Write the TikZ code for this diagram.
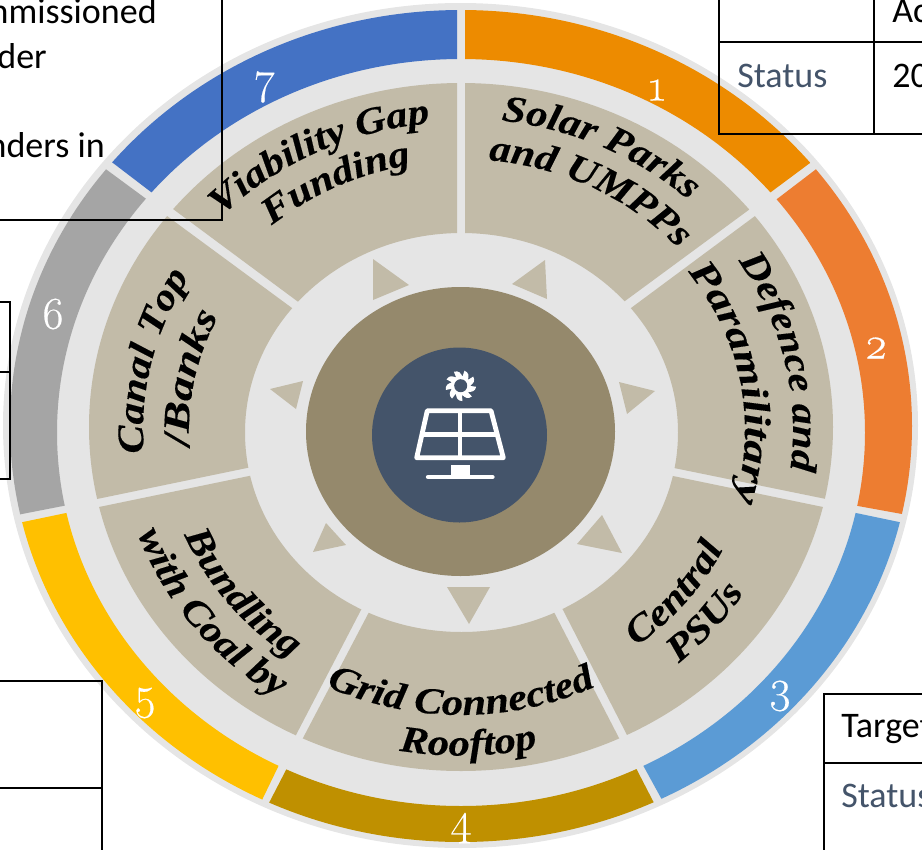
\documentclass[tikz,border=0pt]{standalone}
\usepackage{fontspec}
\usetikzlibrary{calc,decorations.text}
\newfontfamily\tblfont{Carlito}
\newfontfamily\digitfont[Numbers=OldStyle,FakeBold=0.4]{Latin Modern Roman}
\newfontfamily\arcfont[UprightFont=* Bold Italic,FakeStretch=1.14,FakeBold=0.3]{Liberation Serif}
\newfontfamily\arcwidefont[UprightFont=* Bold Italic,FakeStretch=1.25,FakeBold=0.3]{Liberation Serif}
\definecolor{diskgray}{HTML}{E5E5E5}
\definecolor{sectorbeige}{HTML}{C2BBA8}
\definecolor{hubdark}{HTML}{95896C}
\definecolor{hubblue}{HTML}{44546A}
\definecolor{segA}{HTML}{ED8B00}
\definecolor{segB}{HTML}{ED7D31}
\definecolor{segC}{HTML}{5B9BD5}
\definecolor{segD}{HTML}{BF9000}
\definecolor{segE}{HTML}{FFC000}
\definecolor{segF}{HTML}{A5A5A5}
\definecolor{segG}{HTML}{4472C4}
\tikzset{
  tableline/.style={draw=black,line width=1.7pt},
  tabletext/.style={font=\tblfont\fontsize{27}{30}\selectfont,inner sep=0pt},
  statustext/.style={tabletext,text=hubblue},
  numlabel/.style={font=\digitfont\fontsize{34}{36}\selectfont,text=white,inner sep=0pt},
  pointer/.style={fill=sectorbeige}
}
\newcommand{\ringpart}[5]{%
  \begin{scope}
    \clip ($(#2)!-0.3!(#3)$) -- ($(#2)!4!(#3)$) -- ($(#5)!4!(#4)$) -- ($(#5)!-0.3!(#4)$) -- cycle;
    \fill[#1,even odd rule] (461,426) ellipse [x radius=451,y radius=416]
      (461,432.5) ellipse [x radius=404,y radius=373.5];
  \end{scope}}
\newcommand{\sectorpart}[4]{%
  \begin{scope}
    \clip ($(#1)!-0.1!(#2)$) -- ($(#1)!1.5!(#2)$) -- ($(#4)!1.5!(#3)$) -- ($(#4)!-0.1!(#3)$) -- cycle;
    \fill[sectorbeige,even odd rule] (461,427) ellipse [x radius=372,y radius=344]
      (461.5,432.5) ellipse [x radius=216.5,y radius=199.5];
  \end{scope}}
% [font], radius, start angle, end angle, text: centred on the arc, which runs on beyond both ends
\newcommand{\arctext}[5][\arcfont]{%
  \pgfmathsetmacro{\arcpad}{((#4)>(#3)?14:-14)}%
  \pgfmathsetmacro{\arcs}{#3-\arcpad}%
  \pgfmathsetmacro{\arce}{#4+\arcpad}%
  \path[decorate,decoration={text along path,text align=center,
     text={|#1\fontsize{28}{30}\selectfont|#5}}]
     ({461+#2*cos(\arcs)},{430+0.925*#2*sin(\arcs)})
     arc[start angle=\arcs,end angle=\arce,x radius=#2,y radius={0.925*#2}];}
\begin{document}
\begin{tikzpicture}[x=0.75pt,y=-0.75pt]
\useasboundingbox (0,0) rectangle (922,850);
\clip (0,0) rectangle (922,850);
% disk
\fill[diskgray] (460.5,425.5) ellipse [x radius=457.5,y radius=422.5];
% ring
\ringpart{segA}{465,59}{465,10}{810,163}{771,192}
\ringpart{segB}{777,199}{815,170}{902,514}{858,506}
\ringpart{segC}{856,513}{899,522}{661,798}{644,767}
\ringpart{segD}{637,770}{653,801}{270,801}{286,770}
\ringpart{segE}{278,767}{263,798}{23,522}{66,513}
\ringpart{segF}{63,506}{22,514}{107,170}{145,198}
\ringpart{segG}{151,192}{113,163}{457,10}{457,59}
% sectors
\sectorpart{465,233}{465,83}{750,209}{625,301}
\sectorpart{631,308}{755,216}{826,499}{674,468}
\sectorpart{673,476}{823,507}{627,735}{563,610}
\sectorpart{555,614}{619,738}{303,738}{368,614}
\sectorpart{361,610}{296,735}{99,507}{249,476}
\sectorpart{247,468}{97,499}{167,216}{292,308}
\sectorpart{297,301}{173,209}{457,83}{457,233}
% pointers
\fill[pointer] (373,259) -- (409,285) -- (373,300) -- cycle;
\fill[pointer] (545,260) -- (512,284) -- (547,299) -- cycle;
\fill[pointer] (619,382) -- (655,391) -- (627,414) -- cycle;
\fill[pointer] (602,515) -- (622,553) -- (577,544) -- cycle;
\fill[pointer] (447,587) -- (490,587) -- (469,624) -- cycle;
\fill[pointer] (326,523) -- (346,545) -- (313,552) -- cycle;
\fill[pointer] (270,389) -- (303,381) -- (296,409) -- cycle;
% hub
\fill[hubdark] (460.5,431.5) ellipse [x radius=154.5,y radius=144.5];
\fill[hubblue] (459.5,435) circle [radius=87.5];
% icon
\draw[white,line width=3.6pt,line join=round]
  (427.3,410.7) -- (491,410.7) -- (503.3,457.7) -- (416.7,457.7) -- cycle;
\draw[white,line width=3.6pt] (460,410.7) -- (460,457.7);
\draw[white,line width=3.6pt] (422,434.3) -- (497,434.3);
\fill[white] (450.7,465) rectangle (470,476);
\draw[white,line width=3.2pt,line cap=round] (428,477) -- (492.5,477);
\begin{scope}[shift={(460.7,385.7)}]
  \foreach \t in {0,40,...,320}{
    \fill[white] (\t:8) -- (\t+4:15.5) .. controls (\t+22:15.5) and (\t+30:13) .. (\t+42:9) -- cycle;
  }
  \fill[white] (0,0) circle [radius=10];
  \fill[hubblue] (0,0) circle [radius=6.5];
\end{scope}
% sector labels
\arctext{337}{-83}{-47}{Solar Parks}
\arctext{293}{-83.5}{-42.5}{and UMPPs}
\arctext{333}{-136}{-96}{Viability Gap}
\arctext{291}{-131}{-100}{Funding}
\arctext{332}{-33}{7.5}{Defence and}
\arctext[\arcwidefont]{284}{-38}{17}{Paramilitary}
\arctext{292}{52.5}{26}{Central}
\arctext{333}{48}{32.5}{PSUs}
\arctext{308}{116}{64}{Grid Connected}
\arctext{352}{100.5}{77}{Rooftop}
\arctext{299}{157.5}{125.5}{Bundling}
\arctext{342}{160}{124}{with Coal by}
\arctext{318}{175.5}{211}{Canal Top}
\arctext[\arcwidefont]{272}{177}{206}{/Banks}
% numbers
\node[numlabel] (n1) at (657,90) {1};
\node[numlabel] (n2) at (876,348) {2};
\node[numlabel] (n3) at (780,696) {3};
\node[numlabel] (n4) at (461,828) {4};
\node[numlabel] (n5) at (145,703) {5};
\node[numlabel] (n6) at (53,314) {6};
\node[numlabel] (n7) at (265,87) {7};
% table fragments
\draw[tableline] (0,220) -- (222,220) -- (222,0);
\draw[tableline] (719,0) -- (719,134) -- (922,134);
\draw[tableline] (874,0) -- (874,134);
\draw[tableline] (719,42) -- (922,42);
\draw[tableline] (0,302) -- (10,302) -- (10,479) -- (0,479);
\draw[tableline] (0,372) -- (10,372);
\draw[tableline] (0,681) -- (102,681) -- (102,850);
\draw[tableline] (0,788) -- (102,788);
\draw[tableline] (922,694) -- (824,694) -- (824,850);
\draw[tableline] (824,763) -- (922,763);
% table text
\node[tabletext,anchor=base east] (t1) at (157,23) {commissioned};
\node[tabletext,anchor=base east] (t2) at (47,68) {der};
\node[tabletext,anchor=base east] (t3) at (105,157) {nders in};
\node[tabletext,anchor=base west] (t4) at (892,22) {Ac};
\node[statustext,anchor=base west] (t5) at (737,87) {Status};
\node[tabletext,anchor=base west] (t6) at (892,87) {20};
\node[tabletext,anchor=base west] (t7) at (841,737) {Target};
\node[statustext,anchor=base west] (t8) at (841,807) {Status};
\end{tikzpicture}
\end{document}
